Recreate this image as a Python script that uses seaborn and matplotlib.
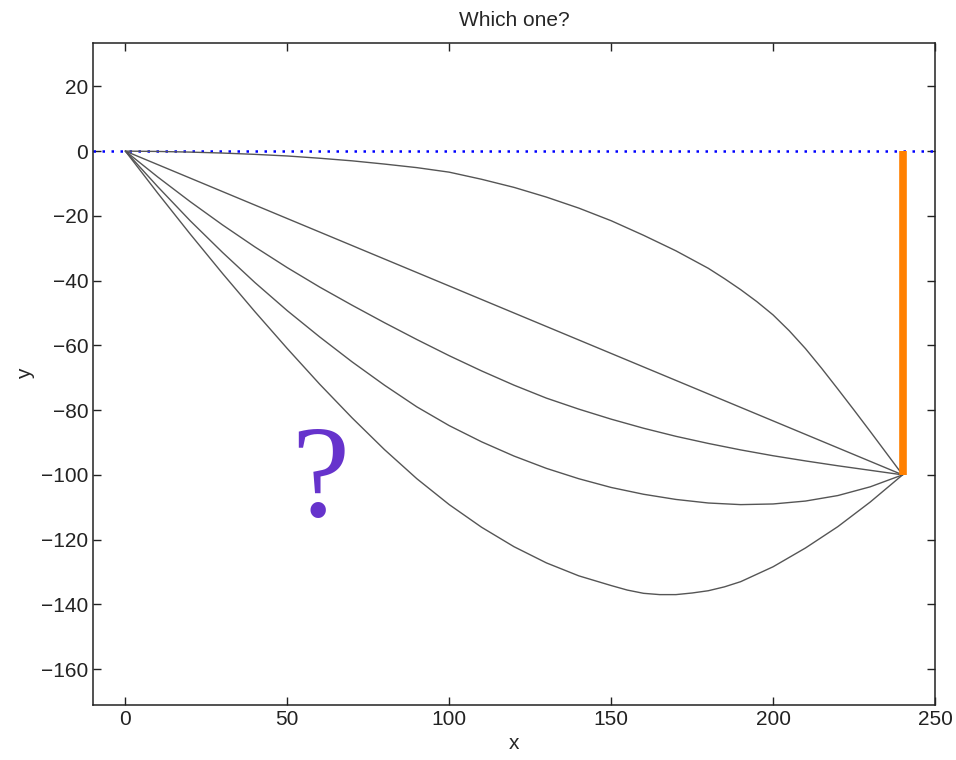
import numpy as np
import pandas as pd
import matplotlib
matplotlib.use("Agg")
import matplotlib.pyplot as plt
import seaborn as sns

sns.set_style("ticks")
plt.rcParams['font.family'] = ['Liberation Sans', 'DejaVu Sans']

# Candidate paths from (0, 0) to (240, -100)
x_grid = [0, 10, 20, 30, 40, 50, 60, 70, 80, 90, 100, 110, 120,
          130, 140, 150, 160, 170, 180, 190, 200, 210, 220, 230, 240]

x_top = [0, 10, 20, 30, 40, 50, 60, 70, 80, 90, 100, 110, 120, 130, 140, 150,
         160, 170, 180, 185, 190, 195, 200, 205, 210, 215, 220, 225, 230, 235, 240]
y_top = [0, -0.1, -0.3, -0.6, -1.0, -1.5, -2.2, -3.0, -4.0, -5.1, -6.5, -8.7, -11.2, -14.2, -17.6, -21.5,
         -26.0, -30.8, -36.2, -39.4, -42.8, -46.5, -50.6, -55.5, -61.0, -67.1, -73.5, -80.0, -86.6, -93.3, -100]

x_line = [0, 240]
y_line = [0, -100]

y_mid = [0, -8.0, -15.6, -22.8, -29.6, -36.0, -42.0, -47.6, -53.0, -58.2, -63.2, -67.9, -72.3,
         -76.3, -79.7, -82.8, -85.6, -88.1, -90.3, -92.3, -94.1, -95.7, -97.2, -98.6, -100]

y_cyc = [0, -11.0, -21.5, -31.3, -40.6, -49.3, -57.4, -65.1, -72.3, -79.0, -84.8, -89.8, -94.2,
         -98.0, -101.2, -103.9, -106.0, -107.6, -108.7, -109.2, -109.0, -108.1, -106.4, -103.7, -100]

x_deep = [0, 10, 20, 30, 40, 50, 60, 70, 80, 90, 100, 110, 120, 130, 140, 150,
          155, 160, 165, 170, 175, 180, 185, 190, 200, 210, 220, 230, 240]
y_deep = [0, -13.0, -25.6, -37.8, -49.6, -61.0, -72.0, -82.4, -92.2, -101.2, -109.2, -116.2, -122.2,
          -127.2, -131.2, -134.2, -135.6, -136.6, -137.0, -137.0, -136.5, -135.8, -134.6, -133.0,
          -128.4, -122.6, -116.0, -108.4, -100]

# horizontal reference and vertical drop
x_ref = [-10, 250]
y_ref = [0, 0]
x_drop = [240, 240]
y_drop = [0, -100]

fig = plt.figure(figsize=(9.56, 7.6), dpi=100)
ax = fig.add_axes([93 / 956, 1 - 705 / 760, (935 - 93) / 956, (705 - 43) / 760])

sns.lineplot(x=x_ref, y=y_ref, ax=ax, color='blue', linewidth=1.8,
             estimator=None, sort=False, dashes=False)
ax.lines[-1].set_dashes([1.0, 2.6])

paths = [(x_top, y_top), (x_line, y_line), (x_grid, y_mid), (x_grid, y_cyc), (x_deep, y_deep)]
for xs, ys in paths:
    sns.lineplot(x=xs, y=ys, ax=ax, color='#555555', linewidth=1.0,
                 estimator=None, sort=False)

sns.lineplot(x=x_drop, y=y_drop, ax=ax, color='#FF8000', linewidth=5.5,
             estimator=None, sort=False, solid_capstyle='butt')

ax.text(60, -103, '?', color='#6633CC', fontsize=94, ha='center', va='center',
        family=['Liberation Serif', 'DejaVu Serif'])

ax.set_xlim(-10, 250)
ax.set_ylim(-171.1, 33.4)
ax.set_xticks([0, 50, 100, 150, 200, 250])
ax.set_yticks(np.arange(-160, 21, 20))
ax.tick_params(direction='in', length=6, width=1, top=True, right=True,
               labelsize=15, colors='#222222')
for s in ax.spines.values():
    s.set_linewidth(1.1)
    s.set_color('#222222')

ax.set_xlabel('x', fontsize=15)
ax.set_ylabel('y', fontsize=15)
ax.set_title('Which one?', fontsize=15, pad=12)

fig.savefig('out.png', dpi=100, facecolor='white')
